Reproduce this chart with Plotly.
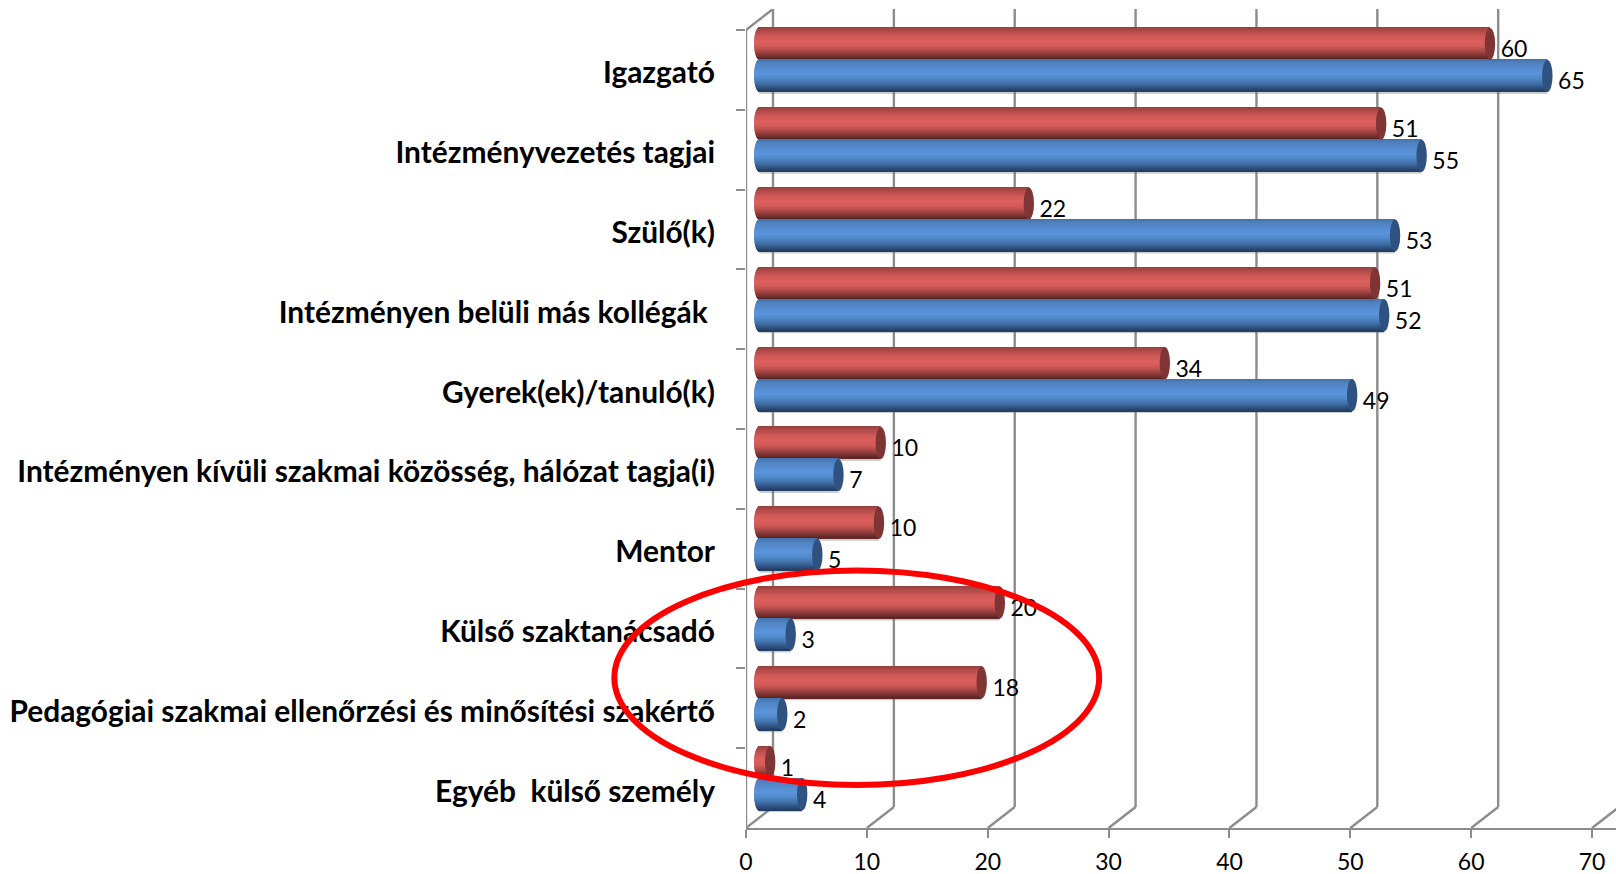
import plotly.graph_objects as go

# ---------- data ----------
categories = [
    "Igazgató",
    "Intézményvezetés tagjai",
    "Szülő(k)",
    "Intézményen belüli más kollégák\u00a0",
    "Gyerek(ek)/tanuló(k)",
    "Intézményen kívüli szakmai közösség, hálózat tagja(i)",
    "Mentor",
    "Külső szaktanácsadó",
    "Pedagógiai szakmai ellenőrzési és minősítési szakértő",
    "Egyéb\u00a0\u00a0külső személy",
]
red_values = [60.45, 51.45, 22.3, 50.95, 33.55, 10.05, 9.9, 19.9, 18.4, 0.9]
blue_values = [65.2, 54.8, 52.6, 51.7, 49.05, 6.55, 4.8, 2.6, 1.9, 3.55]
x_ticks = [0, 10, 20, 30, 40, 50, 60, 70]

# ---------- geometry ----------
W, H = 1616, 874
L, T, B = 745.7, 9, 46
X_MAX = 71.98
Y_TOP = -0.763
Y_BOTTOM = 9.5
PX_X = (W - L) / X_MAX
PX_Y = (H - T - B) / (Y_BOTTOM - Y_TOP)
DEPTH_X = 27 / PX_X
DEPTH_Y = 21 / PX_Y
BAR_H = 32 / PX_Y            # thickness of one cylinder, in rows
RED_TOP = -42 / PX_Y         # top of red cylinder relative to the row centre
CAP_X = 13.3 / PX_X          # start-of-cylinder shift
RX = 5.2 / PX_X              # ellipse half width
BANDS = 32
AXIS = "#8c8c8c"
FONT = "Lato, Carlito, Calibri, sans-serif"

RED_STOPS = [(0, "#92403e"), (.12, "#b04a48"), (.3, "#cf5957"), (.45, "#dd5f5d"),
             (.6, "#d25a58"), (.75, "#ab4846"), (.9, "#78312f"), (1, "#572524")]
BLUE_STOPS = [(0, "#4470a6"), (.12, "#4f82c0"), (.3, "#568cd0"), (.45, "#5b94dc"),
              (.6, "#5289ca"), (.75, "#4272a9"), (.9, "#2e5282"), (1, "#223c5e")]


def ramp(stops, t):
    for (a, ca), (b, cb) in zip(stops, stops[1:]):
        if a <= t <= b:
            f = (t - a) / (b - a)
            rgb = [round(int(ca[i:i + 2], 16) * (1 - f) + int(cb[i:i + 2], 16) * f)
                   for i in (1, 3, 5)]
            return "rgb(%d,%d,%d)" % tuple(rgb)
    return stops[-1][1]


fig = go.Figure()


def cylinder(values, stops, cap_color, top_offset):
    band_h = BAR_H / BANDS
    # faint soft shadow just under the cylinder
    fig.add_bar(
        y=categories, x=values, base=[CAP_X] * len(values),
        orientation="h", width=2.5 / PX_Y, offset=top_offset + BAR_H - 0.5 / PX_Y,
        marker=dict(color="rgba(110,110,110,0.35)", line=dict(width=0)),
        showlegend=False, hoverinfo="skip",
    )
    for k in range(BANDS):
        t = (k + 0.5) / BANDS
        s = 2 * t - 1
        dx = RX * (1 - s * s) ** 0.5
        bases = [CAP_X - dx for _ in values]
        lengths = [v + dx for v in values]
        fig.add_bar(
            y=categories, x=lengths, base=bases, orientation="h",
            width=band_h, offset=top_offset + k * band_h,
            marker=dict(color=ramp(stops, t), line=dict(width=0)),
            showlegend=False, hoverinfo="skip",
        )
    for i, v in enumerate(values):
        fig.add_shape(
            type="circle", xref="x", yref="y", layer="above",
            x0=v + CAP_X - RX, x1=v + CAP_X + RX,
            y0=i + top_offset, y1=i + top_offset + BAR_H,
            fillcolor=cap_color, line=dict(width=0),
        )
    # value labels
    fig.add_bar(
        y=categories, x=[v + CAP_X + RX + 2.5 / PX_X for v in values],
        orientation="h", width=BAR_H, offset=top_offset + 4.5 / PX_Y,
        marker=dict(color="rgba(0,0,0,0)", line=dict(width=0)),
        text=[f"{v:.0f}" for v in values], textposition="outside",
        textfont=dict(family=FONT, size=23, color="#000000"),
        cliponaxis=False, constraintext="none",
        showlegend=False, hoverinfo="skip",
    )


cylinder(red_values, RED_STOPS, "#7f3533", RED_TOP)
cylinder(blue_values, BLUE_STOPS, "#2f5280", RED_TOP + BAR_H)

# 3-D frame: back wall gridlines and floor/side diagonals
line = dict(color=AXIS, width=2.4)
for v in x_ticks:
    fig.add_shape(type="line", xref="x", yref="y", layer="below",
                  x0=v, x1=v + DEPTH_X, y0=Y_BOTTOM, y1=Y_BOTTOM - DEPTH_Y, line=line)
    fig.add_shape(type="line", xref="x", yref="y", layer="below",
                  x0=v + DEPTH_X, x1=v + DEPTH_X, y0=Y_BOTTOM - DEPTH_Y, y1=Y_TOP, line=line)
fig.add_shape(type="line", xref="x", yref="y", layer="below",
              x0=0, x1=0, y0=Y_BOTTOM, y1=-0.5, line=line)
fig.add_shape(type="line", xref="x", yref="y", layer="below",
              x0=0, x1=DEPTH_X, y0=-0.5, y1=Y_TOP, line=line)

# hand-drawn red ring
fig.add_shape(
    type="circle", xref="paper", yref="paper", layer="above",
    x0=(614 - L) / (W - L), x1=(1099 - L) / (W - L),
    y0=(H - B - 785) / (H - T - B), y1=(H - B - 570.5) / (H - T - B),
    line=dict(color="#ff0000", width=6), fillcolor="rgba(0,0,0,0)",
)

fig.update_layout(
    width=W, height=H, autosize=False,
    margin=dict(l=L, r=0, t=T, b=B, pad=0),
    paper_bgcolor="white", plot_bgcolor="white",
    barmode="overlay", showlegend=False,
    font=dict(family=FONT, color="#000000"),
    xaxis=dict(
        automargin=False,
        range=[0, X_MAX], tickvals=x_ticks, showgrid=False, zeroline=False,
        showline=True, linecolor=AXIS, linewidth=2.4,
        ticks="outside", ticklen=8, tickwidth=2.4, tickcolor=AXIS,
        tickfont=dict(family=FONT, size=23, color="#000000"),
        ticklabelstandoff=4,
    ),
    yaxis=dict(
        automargin=False,
        type="category", categoryorder="array", categoryarray=categories,
        range=[Y_BOTTOM, Y_TOP], tickson="boundaries",
        showgrid=False, zeroline=False, showline=False,
        ticks="outside", ticklen=9, tickwidth=2.4, tickcolor=AXIS,
        tickfont=dict(family=FONT, size=29.9, color="#000000", weight="bold"),
        ticklabelstandoff=30, ticklabelshift=-3,
    ),
)

fig.write_html(
    "out.html",
    config={"displayModeBar": False},
    post_script="document.body.style.margin='0';document.body.style.overflow='hidden';",
)
